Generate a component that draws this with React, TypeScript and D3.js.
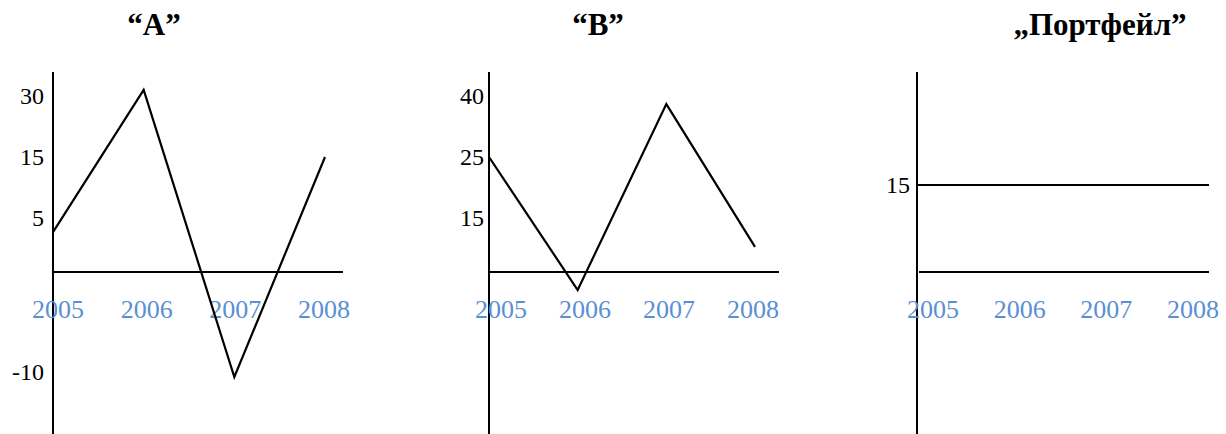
import React from "react";
import * as d3 from "d3";

// Years along the horizontal axis of every panel
const years = ["2005", "2006", "2007", "2008"];

// Series values per panel
const valuesA = [3.7, 31.5, -10.5, 15];
const valuesB = [25, -5, 38, 7];
const valuesPortfolio = [15, 15, 15, 15];

// Tick labels shown on each vertical axis
const ticksA = [30, 15, 5, -10];
const ticksB = [40, 25, 15];
const ticksPortfolio = [15];

// Titles
const titles = ["\u201CA\u201D", "\u201CB\u201D", "\u201EПортфейл\u201D"];

const W = 1226;
const H = 434;
const AXIS_TOP = 72;
const BASE_Y = 272;
const SERIF = "'Liberation Serif', 'Times New Roman', Times, serif";

type Panel = {
  title: string;
  titleX: number;
  axisX: number;
  lineStart: number;
  endX: number;
  dataRange: [number, number];
  labelRange: [number, number];
  tickRight: number;
  values: number[];
  ticks: number[];
  yDomain: number[];
  yRange: number[];
};

const panels: Panel[] = [
  {
    title: titles[0],
    titleX: 154,
    axisX: 53,
    lineStart: 53,
    endX: 343,
    dataRange: [53, 325],
    labelRange: [58, 324],
    tickRight: 44,
    values: valuesA,
    ticks: ticksA,
    yDomain: [-10, 0, 5, 15, 30],
    yRange: [372, BASE_Y, 218, 157, 96],
  },
  {
    title: titles[1],
    titleX: 598,
    axisX: 489,
    lineStart: 489,
    endX: 779,
    dataRange: [489, 755],
    labelRange: [501, 753],
    tickRight: 484,
    values: valuesB,
    ticks: ticksB,
    yDomain: [0, 15, 25, 40],
    yRange: [BASE_Y, 218, 157, 96],
  },
  {
    title: titles[2],
    titleX: 1100,
    axisX: 917,
    lineStart: 919,
    endX: 1209,
    dataRange: [917, 1209],
    labelRange: [933, 1193],
    tickRight: 910,
    values: valuesPortfolio,
    ticks: ticksPortfolio,
    yDomain: [0, 15],
    yRange: [BASE_Y, 185],
  },
];

function PanelView({ p }: { p: Panel }) {
  const y = d3.scaleLinear().domain(p.yDomain).range(p.yRange);
  const xData = d3.scalePoint<string>().domain(years).range(p.dataRange);
  const xLabel = d3.scalePoint<string>().domain(years).range(p.labelRange);
  const line = d3
    .line<number>()
    .x((_, i) => xData(years[i]) as number)
    .y((v) => y(v));

  return (
    <g>
      <text
        x={p.titleX}
        y={35}
        textAnchor="middle"
        fontFamily={SERIF}
        fontWeight="bold"
        fontSize={31}
        fill="#000"
      >
        {p.title}
      </text>
      {/* vertical axis */}
      <line x1={p.axisX} x2={p.axisX} y1={AXIS_TOP} y2={H} stroke="#000" strokeWidth={2} />
      {/* zero line */}
      <line x1={p.lineStart} x2={p.endX} y1={y(0)} y2={y(0)} stroke="#000" strokeWidth={2} />
      {p.ticks.map((t) => (
        <text
          key={t}
          x={p.tickRight}
          y={y(t)}
          dy="0.35em"
          textAnchor="end"
          fontFamily={SERIF}
          fontSize={24}
          fill="#000"
        >
          {t}
        </text>
      ))}
      {years.map((yr) => (
        <text
          key={yr}
          x={xLabel(yr)}
          y={318}
          textAnchor="middle"
          fontFamily={SERIF}
          fontSize={26}
          fill="#5b8fd3"
        >
          {yr}
        </text>
      ))}
      <path d={line(p.values) ?? ""} fill="none" stroke="#000" strokeWidth={2.2} />
    </g>
  );
}

export default function App() {
  return (
    <svg
      width={W}
      height={H}
      style={{ position: "absolute", left: 0, top: 0, background: "#fff" }}
    >
      <rect width={W} height={H} fill="#fff" />
      {panels.map((p, i) => (
        <PanelView key={i} p={p} />
      ))}
    </svg>
  );
}
